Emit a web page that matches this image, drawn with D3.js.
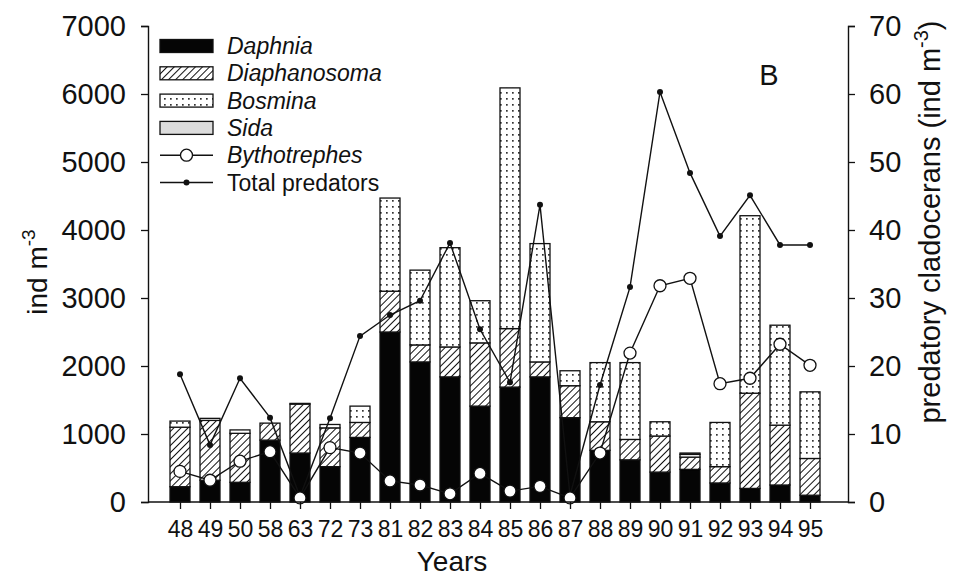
<!DOCTYPE html>
<html>
<head>
<meta charset="utf-8">
<script src="https://cdn.jsdelivr.net/npm/d3@7/dist/d3.min.js"></script>
<style>
  html, body { margin: 0; padding: 0; background: #fff; }
  svg { display: block; font-family: "Liberation Sans", Arial, sans-serif; }
</style>
</head>
<body>
<svg id="chart" width="955" height="576"></svg>
<script>
// Years of sampling
const years = ["48","49","50","58","63","72","73","81","82","83","84","85","86","87","88","89","90","91","92","93","94","95"];

// Herbivorous cladocerans (ind m-3)
const daphnia      = [225, 320, 290, 910, 720, 520, 950, 2500, 2060, 1840, 1410, 1690, 1840, 1240, 760, 620, 440, 480, 280, 200, 250, 100];
const diaphanosoma = [875, 880, 720, 250, 720, 570, 220, 600, 250, 440, 930, 860, 220, 470, 420, 300, 530, 180, 240, 1400, 880, 540];
const bosmina      = [90, 30, 50, 0, 0, 50, 240, 1370, 1100, 1460, 620, 3540, 1740, 220, 870, 1130, 210, 40, 650, 2610, 1470, 980];
const sida         = [0, 0, 0, 0, 10, 0, 0, 0, 0, 0, 0, 0, 0, 0, 0, 0, 0, 20, 0, 0, 0, 0];

// Predatory cladocerans (ind m-3)
const bythotrephes   = [4.5, 3.2, 6.0, 7.4, 0.6, 8.0, 7.2, 3.1, 2.5, 1.2, 4.2, 1.6, 2.3, 0.6, 7.2, 21.9, 31.8, 32.9, 17.4, 18.2, 23.2, 20.1];
const totalPredators = [18.8, 8.4, 18.2, 12.4, 0.8, 12.3, 24.4, 27.5, 29.6, 38.1, 25.4, 17.6, 43.7, 1.0, 17.2, 31.6, 60.3, 48.4, 39.1, 45.1, 37.8, 37.8];

const leftTicks  = [0, 1000, 2000, 3000, 4000, 5000, 6000, 7000];
const rightTicks = [0, 10, 20, 30, 40, 50, 60, 70];

const seriesKeys = ["Daphnia", "Diaphanosoma", "Bosmina", "Sida"];

const rows = years.map((y, i) => ({
  year: y,
  Daphnia: daphnia[i],
  Diaphanosoma: diaphanosoma[i],
  Bosmina: bosmina[i],
  Sida: sida[i],
  byth: bythotrephes[i],
  total: totalPredators[i]
}));

const svg = d3.select("#chart");
const plotLeft = 148, plotRight = 848, plotTop = 26, plotBottom = 502;

const x = d3.scalePoint().domain(years).range([180, 810]);
const yL = d3.scaleLinear().domain([0, 7000]).range([plotBottom, plotTop]);
const yR = d3.scaleLinear().domain([0, 70]).range([plotBottom, plotTop]);
const barW = 20;

// Fill patterns
const defs = svg.append("defs");
const hatch = defs.append("pattern")
  .attr("id", "hatch").attr("patternUnits", "userSpaceOnUse")
  .attr("width", 5).attr("height", 5)
  .attr("patternTransform", "rotate(45)");
hatch.append("rect").attr("width", 5).attr("height", 5).attr("fill", "#fff");
hatch.append("line").attr("x1", 0).attr("y1", 0).attr("x2", 0).attr("y2", 5)
  .attr("stroke", "#111").attr("stroke-width", 2);

const dots = defs.append("pattern")
  .attr("id", "dots").attr("patternUnits", "userSpaceOnUse")
  .attr("width", 6).attr("height", 6);
dots.append("rect").attr("width", 6).attr("height", 6).attr("fill", "#fff");
dots.append("rect").attr("x", 2).attr("y", 2).attr("width", 1.7).attr("height", 1.7).attr("fill", "#333");

const fills = { Daphnia: "#050505", Diaphanosoma: "url(#hatch)", Bosmina: "url(#dots)", Sida: "#dcdcdc" };

// Stacked bars
const stacked = d3.stack().keys(seriesKeys)(rows);
svg.append("g").selectAll("g")
  .data(stacked).join("g")
  .attr("fill", d => fills[d.key])
  .selectAll("rect")
  .data(d => d.filter(s => s[1] - s[0] > 0)).join("rect")
  .attr("x", d => x(d.data.year) - barW / 2)
  .attr("y", d => yL(d[1]))
  .attr("width", barW)
  .attr("height", d => yL(d[0]) - yL(d[1]))
  .attr("stroke", "#111").attr("stroke-width", 1.3);

// Total predators line
const lineTotal = d3.line().x(d => x(d.year)).y(d => yR(d.total));
svg.append("path").datum(rows).attr("d", lineTotal)
  .attr("fill", "none").attr("stroke", "#111").attr("stroke-width", 1.4);
svg.append("g").selectAll("circle").data(rows).join("circle")
  .attr("cx", d => x(d.year)).attr("cy", d => yR(d.total)).attr("r", 3)
  .attr("fill", "#111");

// Bythotrephes line
const lineByth = d3.line().x(d => x(d.year)).y(d => yR(d.byth));
svg.append("path").datum(rows).attr("d", lineByth)
  .attr("fill", "none").attr("stroke", "#111").attr("stroke-width", 1.4);
svg.append("g").selectAll("circle").data(rows).join("circle")
  .attr("cx", d => x(d.year)).attr("cy", d => yR(d.byth)).attr("r", 6)
  .attr("fill", "#fff").attr("stroke", "#111").attr("stroke-width", 1.3);

// Axes
const axisL = svg.append("g").attr("transform", `translate(${plotLeft},0)`)
  .call(d3.axisLeft(yL).tickValues(leftTicks).tickFormat(d3.format("d"))
    .tickSize(7).tickSizeOuter(7).tickPadding(15));
const axisR = svg.append("g").attr("transform", `translate(${plotRight},0)`)
  .call(d3.axisRight(yR).tickValues(rightTicks).tickFormat(d3.format("d"))
    .tickSize(7).tickSizeOuter(7).tickPadding(14));
const axisB = svg.append("g").attr("transform", `translate(0,${plotBottom})`)
  .call(d3.axisBottom(x).tickSize(7).tickSizeOuter(0).tickPadding(12));
axisB.select(".domain").remove();
svg.append("line").attr("x1", plotLeft).attr("x2", plotRight).attr("y1", plotBottom).attr("y2", plotBottom)
  .attr("stroke", "#111").attr("stroke-width", 1.4);

[axisL, axisR, axisB].forEach(g => {
  g.selectAll(".domain").attr("stroke", "#111").attr("stroke-width", 1.4);
  g.selectAll(".tick line").attr("stroke", "#111").attr("stroke-width", 1.3);
});
axisL.selectAll("text").attr("font-size", 29).attr("fill", "#111");
axisR.selectAll("text").attr("font-size", 29).attr("fill", "#111");
axisB.selectAll("text").attr("font-size", 23).attr("fill", "#111");

// Axis titles
svg.append("text").attr("x", 452).attr("y", 571).attr("text-anchor", "middle")
  .attr("font-size", 28).attr("fill", "#111").text("Years");

const tl = svg.append("text").attr("transform", "translate(47,272) rotate(-90)")
  .attr("text-anchor", "middle").attr("font-size", 28).attr("fill", "#111");
tl.append("tspan").text("ind m");
tl.append("tspan").attr("dy", -12).attr("font-size", 19).text("-3");

const tr = svg.append("text").attr("transform", "translate(940,222) rotate(-90)")
  .attr("text-anchor", "middle").attr("font-size", 29).attr("fill", "#111");
tr.append("tspan").text("predatory cladocerans (ind m");
tr.append("tspan").attr("dy", -12).attr("font-size", 20).text("-3");
tr.append("tspan").attr("dy", 12).text(")");

// Panel letter
svg.append("text").attr("x", 769).attr("y", 85).attr("text-anchor", "middle")
  .attr("font-size", 29).attr("fill", "#111").text("B");

// Legend
const legend = svg.append("g");
const legItems = [
  { label: "Daphnia", type: "bar", fill: fills.Daphnia, italic: true },
  { label: "Diaphanosoma", type: "bar", fill: fills.Diaphanosoma, italic: true },
  { label: "Bosmina", type: "bar", fill: fills.Bosmina, italic: true },
  { label: "Sida", type: "bar", fill: fills.Sida, italic: true },
  { label: "Bythotrephes", type: "open", italic: true },
  { label: "Total predators", type: "dot", italic: false }
];
const lx0 = 160, lx1 = 213, ly0 = 46, lstep = 27.3;
legItems.forEach((it, i) => {
  const cy = ly0 + i * lstep;
  const g = legend.append("g");
  if (it.type === "bar") {
    g.append("rect").attr("x", lx0).attr("y", cy - 6.5).attr("width", lx1 - lx0).attr("height", 13)
      .attr("fill", it.fill).attr("stroke", "#111").attr("stroke-width", 1.3);
  } else {
    g.append("line").attr("x1", lx0).attr("x2", lx1).attr("y1", cy).attr("y2", cy)
      .attr("stroke", "#111").attr("stroke-width", 1.4);
    if (it.type === "open") {
      g.append("circle").attr("cx", (lx0 + lx1) / 2).attr("cy", cy).attr("r", 6)
        .attr("fill", "#fff").attr("stroke", "#111").attr("stroke-width", 1.3);
    } else {
      g.append("circle").attr("cx", (lx0 + lx1) / 2).attr("cy", cy).attr("r", 3).attr("fill", "#111");
    }
  }
  g.append("text").attr("x", 227).attr("y", cy + 8)
    .attr("font-size", 23).attr("fill", "#111")
    .attr("font-style", it.italic ? "italic" : "normal")
    .text(it.label);
});
</script>
</body>
</html>
